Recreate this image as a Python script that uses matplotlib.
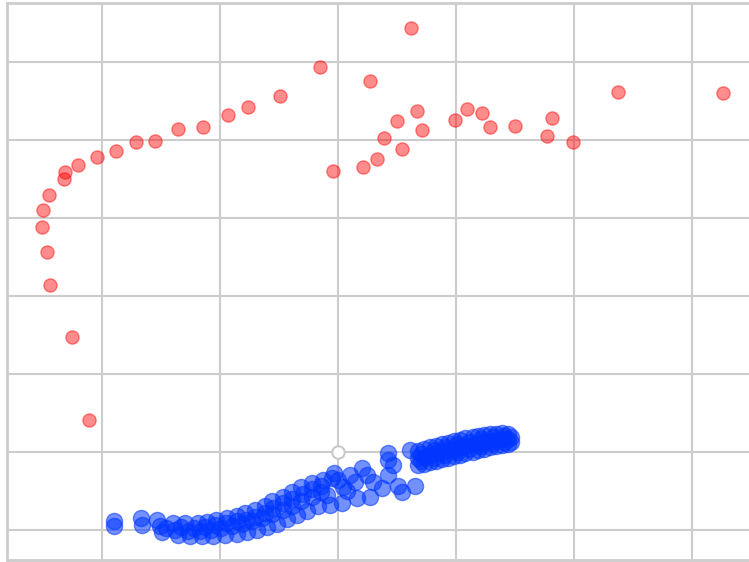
import matplotlib
matplotlib.use("Agg")
import matplotlib.pyplot as plt

# Red series
red_x = [-2.31, -2.32, -2.20, -2.04, -1.88, -1.71, -1.55, -1.36, -1.14, -0.93,
         -0.76, -2.45, -2.50, -2.51, -2.47, -2.44, -2.25, -2.11, -0.49, -0.15,
         0.62, 0.27, -0.04, 0.21, 0.33, 0.39, 0.50, 0.54, 0.67, 0.71,
         0.99, 1.09, 1.22, 1.29, 1.50, 1.81, 1.77, 1.99, 2.37, 3.26]
red_y = [3.59, 3.50, 3.68, 3.78, 3.86, 3.97, 3.99, 4.14, 4.16, 4.32,
         4.42, 3.29, 3.10, 2.88, 2.56, 2.14, 1.47, 0.41, 4.57, 4.93,
         5.43, 4.76, 3.60, 3.65, 3.75, 4.03, 4.24, 3.89, 4.37, 4.13,
         4.25, 4.40, 4.35, 4.17, 4.18, 4.28, 4.05, 3.98, 4.61, 4.60]

# Blue series
blue_x = [-1.90, -1.90, -1.67, -1.66,
          -1.53, -1.51, -1.49, -1.40, -1.38, -1.36, -1.30, -1.27, -1.25,
          -1.19, -1.17, -1.15, -1.11, -1.08, -1.06, -1.03, -0.99, -0.96,
          -0.94, -0.90, -0.86, -0.86, -0.81, -0.77, -0.79, -0.73, -0.69,
          -0.70, -0.64, -0.60, -0.62, -0.56, -0.52, -0.56, -0.47, -0.43,
          -0.47, -0.39, -0.35, -0.39, -0.31, -0.26, -0.31, -0.22, -0.17,
          -0.22, -0.14, -0.07, -0.13,
          -1.46, -1.33, -1.22, -1.13, -1.04, -0.95, -0.86, -0.78, -0.70,
          -0.62, -0.55, -0.47, -0.39, -0.30, -0.22, -0.14, -0.09, -0.05,
          0.08, 0.10,
          -0.03, 0.00, 0.04, 0.03, 0.14, 0.16, 0.20, 0.25, 0.30, 0.37, 0.27,
          0.42, 0.42, 0.47, 0.42, 0.51, 0.54, 0.65, 0.61,
          0.68, 0.68, 0.68, 0.73, 0.73, 0.73, 0.78, 0.78, 0.78,
          0.83, 0.83, 0.83, 0.88, 0.88, 0.88, 0.93, 0.93, 0.93,
          0.98, 0.98, 0.98, 1.03, 1.03, 1.03, 1.08, 1.08, 1.08,
          1.14, 1.14, 1.14, 1.19, 1.19, 1.19, 1.24, 1.24, 1.24,
          1.29, 1.29, 1.29, 1.34, 1.34, 1.34, 1.39, 1.39, 1.39,
          1.44, 1.44, 1.44, 1.47, 1.47,
          0.70, 0.70, 0.81, 0.81, 0.91, 0.91, 1.01, 1.01, 1.11, 1.11,
          1.21, 1.21, 1.31, 1.31, 1.41, 1.41]
blue_y = [-0.88, -0.95, -0.85, -0.94,
          -0.87, -0.95, -1.03, -0.91, -1.00, -1.06, -0.91, -1.01, -1.08,
          -0.91, -1.01, -1.08, -0.90, -1.00, -1.08, -0.87, -0.97, -1.06,
          -0.85, -0.95, -1.05, -0.82, -0.92, -1.03, -0.78, -0.88, -1.00,
          -0.74, -0.85, -0.96, -0.69, -0.79, -0.92, -0.63, -0.74, -0.86,
          -0.58, -0.69, -0.81, -0.51, -0.63, -0.76, -0.45, -0.58, -0.69,
          -0.40, -0.51, -0.68, -0.36,
          -0.98, -0.96, -0.97, -0.96, -0.94, -0.91, -0.89, -0.87, -0.83,
          -0.78, -0.72, -0.66, -0.60, -0.54, -0.48, -0.43, -0.55, -0.33,
          -0.50, -0.30,
          -0.27, -0.36, -0.45, -0.65, -0.38, -0.59, -0.21, -0.29, -0.38, -0.46, -0.58,
          -0.01, -0.10, -0.17, -0.29, -0.44, -0.51, -0.44, 0.03,
          0.01, -0.08, -0.17, 0.04, -0.06, -0.15, 0.06, -0.04, -0.13,
          0.08, -0.01, -0.12, 0.10, 0.00, -0.09, 0.12, 0.03, -0.08,
          0.14, 0.04, -0.05, 0.15, 0.06, -0.04, 0.18, 0.08, -0.01,
          0.19, 0.09, 0.00, 0.21, 0.12, 0.03, 0.22, 0.13, 0.04,
          0.23, 0.14, 0.06, 0.23, 0.15, 0.08, 0.24, 0.17, 0.09,
          0.23, 0.17, 0.10, 0.19, 0.13,
          -0.03, -0.12, 0.02, -0.08, 0.06, -0.04, 0.10, 0.00, 0.13, 0.04,
          0.17, 0.08, 0.19, 0.11, 0.20, 0.13]

origin = (0.0, 0.0)
x_grid = [-2, -1, 0, 1, 2, 3]
y_grid = [-1, 0, 1, 2, 3, 4, 5]

fig = plt.figure(figsize=(7.49, 5.62), dpi=100)
ax = fig.add_axes([7 / 749, 2 / 562, 1 - 7 / 749, 557 / 562])
ax.set_xlim(-2.805, 3.483)
ax.set_ylim(-1.385, 5.756)
ax.set_xticks(x_grid)
ax.set_yticks(y_grid)
ax.tick_params(length=0, labelbottom=False, labelleft=False)
ax.grid(True, color="#cccccc", linewidth=1.5, zorder=0)
ax.set_axisbelow(True)
for side in ("left", "top", "bottom"):
    ax.spines[side].set_color("#cccccc")
    ax.spines[side].set_linewidth(2)
ax.spines["right"].set_visible(False)

ax.plot([origin[0]], [origin[1]], marker="o", markersize=9,
        markerfacecolor="white", markeredgecolor="#c8c8c8",
        markeredgewidth=1.5, zorder=2, clip_on=False)

ax.scatter(red_x, red_y, s=90, color="#ff0000", alpha=0.45,
           linewidths=1.0, zorder=3)
ax.scatter(blue_x, blue_y, s=135, color="#0036ff", alpha=0.55,
           linewidths=1.0, zorder=3)

fig.savefig("out.png", dpi=100)
